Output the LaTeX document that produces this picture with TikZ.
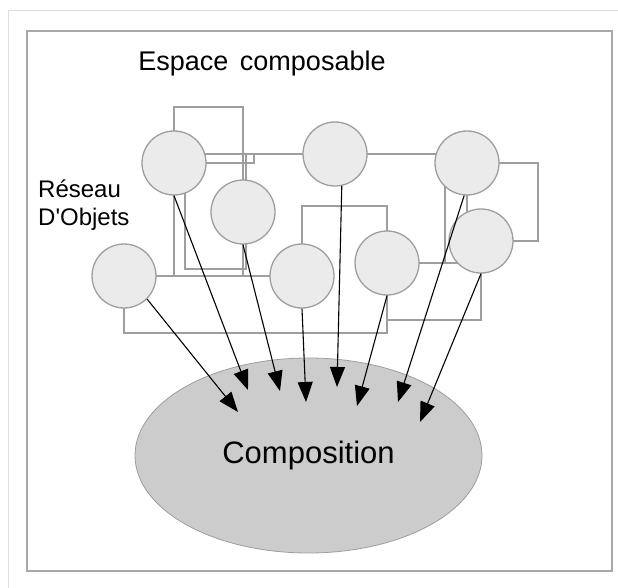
\documentclass[tikz,border=0pt]{standalone}
\usepackage{fontspec}
\setmainfont{Liberation Sans}
\usepackage{tikz}
\usepackage{xcolor}
\usetikzlibrary{shapes.geometric, arrows.meta, backgrounds}

\definecolor{clair}{HTML}{DEDEDE}
\definecolor{cadre}{HTML}{A8A8A8}
\definecolor{gristrait}{HTML}{9E9E9E}
\definecolor{rond}{HTML}{EBEBEB}
\definecolor{compo}{HTML}{CCCCCC}

\begin{document}
\begin{tikzpicture}[x=1pt, y=-1pt, >={Triangle[length=20pt, width=15pt]}]
\tikzstyle{objet}=[circle, draw=gristrait, fill=rond, line width=1.3pt, minimum size=64pt, inner sep=0pt]
\tikzstyle{trait}=[draw=gristrait, line width=1.3pt]
\tikzstyle{fleche}=[->, line width=1.1pt, black]
\useasboundingbox (0,0) rectangle (618,588);
\draw[clair, line width=1pt] (8,588) -- (8,11) -- (618,11);
\draw[cadre, line width=1.8pt] (27,31) rectangle (612,571);
\node[anchor=base, font=\fontsize{27}{32}\selectfont] (titre) at (262,71) {Espace\hspace{0.15em} composable};
\node[anchor=base west, font=\fontsize{24}{28}\selectfont, inner sep=0pt] (reseau) at (38,197) {Réseau};
\node[anchor=base west, font=\fontsize{24}{28}\selectfont, inner sep=0pt] (objets) at (38,225) {D\textquotesingle Objets};
% objets
\node[objet] (o1) at (174,163) {};
\node[objet] (o2) at (243,212) {};
\node[objet] (o3) at (124,276) {};
\node[objet] (o4) at (302,276) {};
\node[objet] (o5) at (335,154) {};
\node[objet] (o6) at (387,263) {};
\node[objet] (o7) at (467,163) {};
\node[objet] (o8) at (481,241) {};
% liens entre objets
\begin{scope}[on background layer]
\draw[trait] (174,107) rectangle (243,276);
\draw[trait] (185,154) rectangle (246,269);
\draw[trait] (o1.center) -- (254,163) -- (254,154);
\draw[trait] (246,154) -- (445,154) -- (445,263);
\draw[trait] (o3.center) -- (o4.center);
\draw[trait] (o4.center) -- (302,206) -- (387,206) -- (o6.center);
\draw[trait] (o3.center) -- (124,333) -- (387,333) -- (o6.center);
\draw[trait] (o6.center) -- (387,320) -- (481,320) -- (o8.center);
\draw[trait] (o6.center) -- (467,263) -- (o7.center);
\draw[trait] (o7.center) -- (538,163) -- (538,241) -- (o8.center);
\end{scope}
% composition
\node[ellipse, draw=gristrait, fill=compo, line width=0.8pt, minimum width=347pt, minimum height=195pt, inner sep=0pt, font=\fontsize{31}{36}\selectfont] (comp) at (308.5,455.5) {Composition};
\coordinate (t1) at (248,390);
\coordinate (t2) at (280,391);
\coordinate (t3) at (238,412);
\coordinate (t4) at (306,402);
\coordinate (t5) at (337,387);
\coordinate (t6) at (357,406);
\coordinate (t7) at (398,402);
\coordinate (t8) at (420,422);
\draw[fleche] (o1.south) -- (t1);
\draw[fleche] (o2.south) -- (t2);
\draw[fleche] (o3.-45) -- (t3);
\draw[fleche] (o4.south) -- (t4);
\draw[fleche] (o5.-78) -- (t5);
\draw[fleche] (o6.south) -- (t6);
\draw[fleche] (o7.-95) -- (t7);
\draw[fleche] (o8.south) -- (t8);
\end{tikzpicture}
\end{document}
